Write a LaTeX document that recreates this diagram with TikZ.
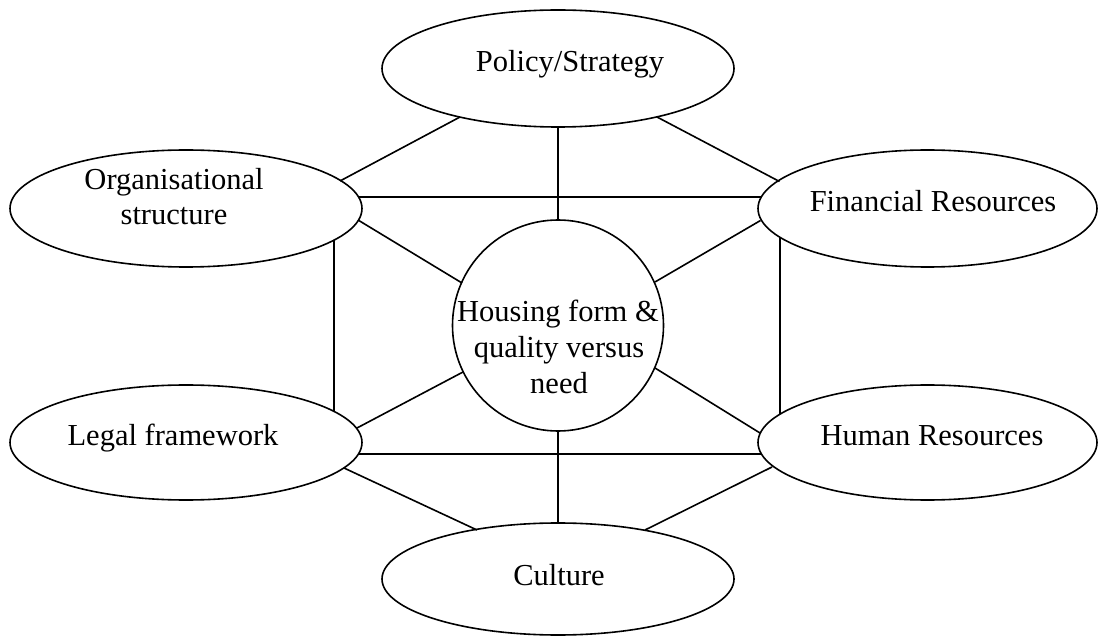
\documentclass[tikz,border=0pt]{standalone}
\usepackage{fontspec}
\setmainfont{Liberation Serif}
\usetikzlibrary{shapes.geometric,calc}
\begin{document}
\begin{tikzpicture}[x=1pt,y=-1pt,line width=1.6pt,
  oval/.style={draw,ellipse,inner sep=0pt,outer sep=0pt},
  lab/.style={anchor=base,inner sep=0pt,font=\fontsize{30.5}{35}\selectfont},
  link/.style={line width=1.6pt}]
\useasboundingbox (0,0) rectangle (1098,636);
% ellipses
\node[oval,minimum width=352pt,minimum height=117pt] (pol) at (558,68.5) {};
\node[oval,minimum width=352pt,minimum height=117pt] (org) at (186,208.5) {};
\node[oval,minimum width=339pt,minimum height=117pt] (fin) at (927.5,208.5) {};
\node[oval,minimum width=352pt,minimum height=115pt] (leg) at (186,442.5) {};
\node[oval,minimum width=339pt,minimum height=115pt] (hum) at (927.5,442.5) {};
\node[oval,minimum width=352pt,minimum height=112pt] (cul) at (558,579) {};
\node[draw,circle,minimum size=211pt,inner sep=0pt,outer sep=0pt] (hub) at (558,325.5) {};
% texts
\node[lab] (polt) at (570,72) {Policy/Strategy};
\node[lab] (orgt1) at (174,190) {Organisational};
\node[lab] (orgt2) at (174,225) {structure};
\node[lab] (fint) at (933,212) {Financial Resources};
\node[lab] (legt) at (173,445) {Legal framework};
\node[lab] (humt) at (932,445) {Human Resources};
\node[lab] (cult) at (559,585) {Culture};
\node[lab] (hubt1) at (558,322) {Housing form \&};
\node[lab] (hubt2) at (559,357) {quality versus};
\node[lab] (hubt3) at (559,393) {need};
% connectors
\draw[link] ($(pol)+(-98,48.5)$) -- ($(org)+(154,-27.5)$);
\draw[link] ($(pol)+(99,48.5)$) -- ($(fin)+(-148,-27)$);
\draw[link] (pol.south) -- (hub.north);
\draw[link] ($(org)+(172.6,-11.5)$) -- ($(fin)+(-166.2,-11.5)$);
\draw[link] ($(org)+(172,11.5)$) -- ($(hub)+(-96,-42.5)$);
\draw[link] ($(fin)+(-167,12)$) -- ($(hub)+(97,-43.5)$);
\draw[link] ($(org)+(148,31.66)$) -- ($(leg)+(148,-31.12)$);
\draw[link] ($(fin)+(-147.5,28.82)$) -- ($(hum)+(-147.5,-28.33)$);
\draw[link] ($(leg)+(171,-14.5)$) -- ($(hub)+(-95,46.5)$);
\draw[link] ($(hum)+(-167.5,-9.5)$) -- ($(hub)+(97,42.5)$);
\draw[link] ($(leg)+(172.4,11.5)$) -- ($(hum)+(-166.1,11.5)$);
\draw[link] (hub.south) -- (cul.north);
\draw[link] ($(leg)+(158,25.5)$) -- ($(cul)+(-81,-49)$);
\draw[link] ($(hum)+(-155.5,24.5)$) -- ($(cul)+(87,-49)$);
\end{tikzpicture}
\end{document}
